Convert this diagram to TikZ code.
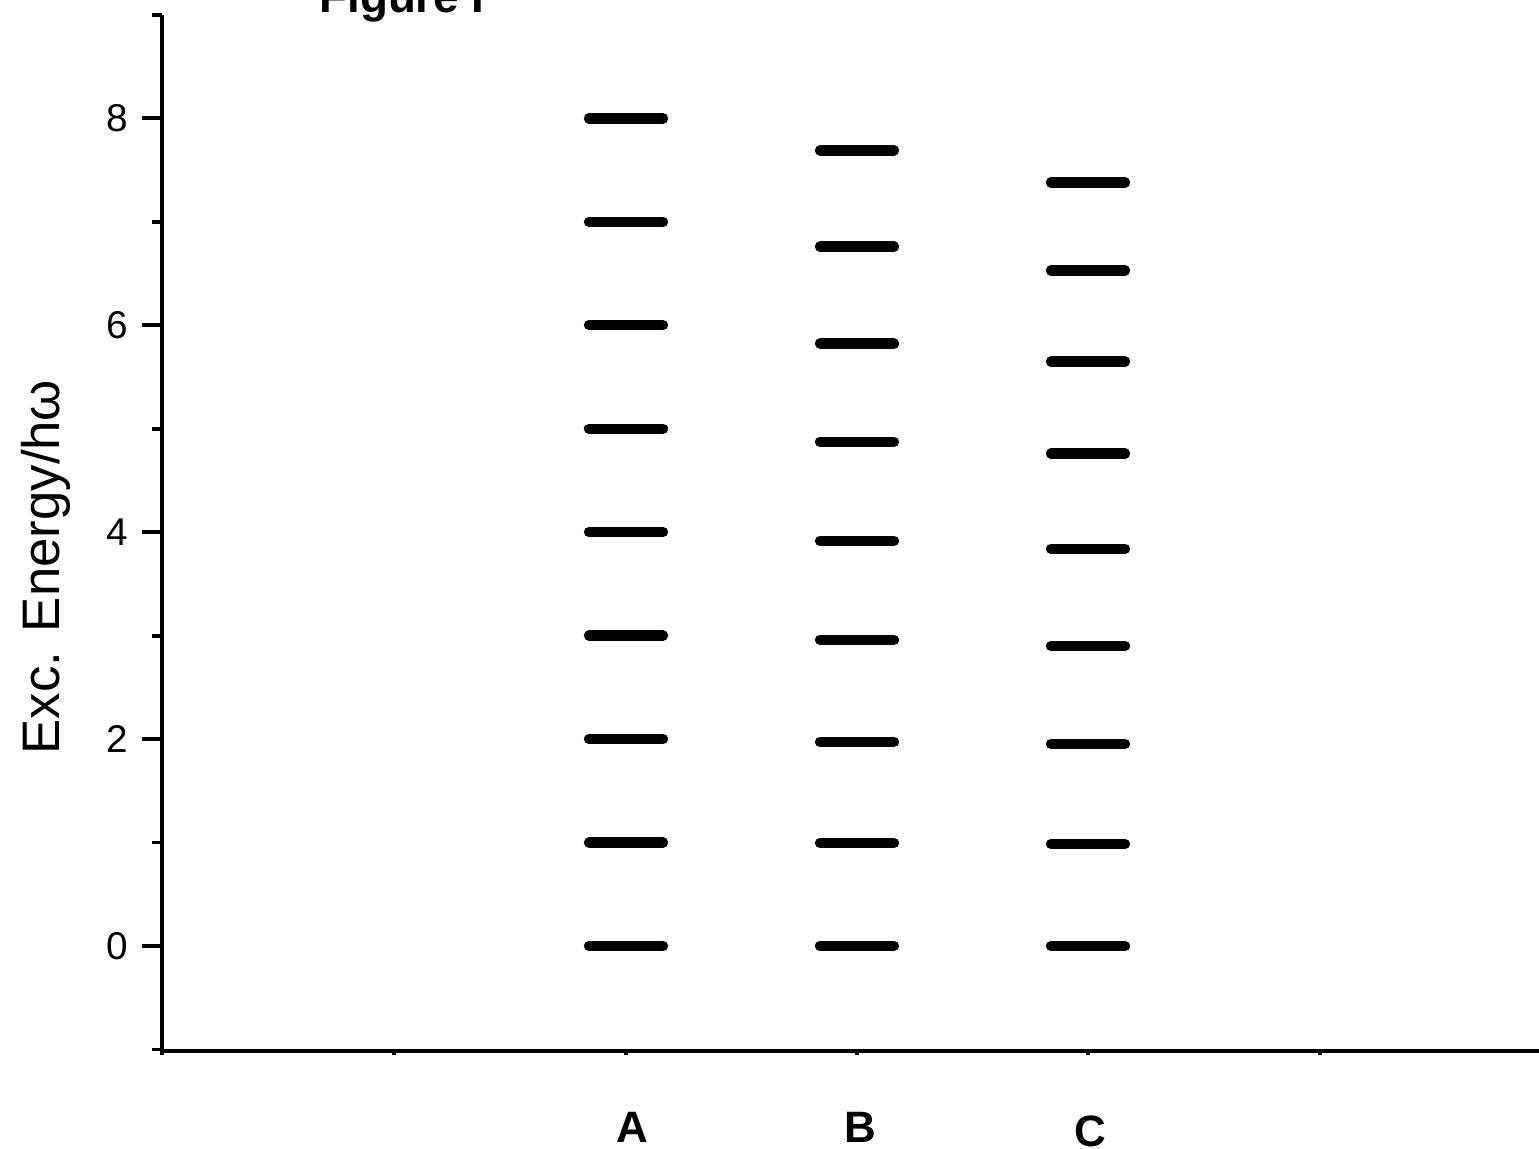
\documentclass[tikz,border=0pt]{standalone}
\usepackage{fontspec}
\setmainfont{Liberation Sans}
\usetikzlibrary{positioning}

\begin{document}
\begin{tikzpicture}[x=0.01cm, y=-0.01cm,
    axis/.style={line width=1.1pt},
    level/.style={line width=2.95pt, line cap=round},
    ticklabel/.style={anchor=east, inner sep=0pt, font=\fontsize{11}{13}\selectfont},
    setlabel/.style={anchor=base, font=\bfseries\fontsize{12.5}{15}\selectfont}]
  \useasboundingbox (0,0) rectangle (1539,1149);
  % Title, cut by the top edge
  \node[anchor=base, font=\bfseries\fontsize{13}{15}\selectfont] (title) at (402,13) {Figure I};
  % Axes
  \draw[axis] (162,15) -- (162,1051) -- (1539,1051);
  \foreach \x in {162,394,626,857,1088,1320}
    \draw[axis] (\x,1051) -- (\x,1055);
  \node[setlabel] (A) at (632,1142) {A};
  \node[setlabel] (B) at (860,1142) {B};
  \node[setlabel] (C) at (1090,1146) {C};
  \node[rotate=90, anchor=base, font=\fontsize{15}{18}\selectfont] (ylabel) at (60,567) {Exc. Energy/hω};
  \begin{scope}[shift={(0,946)}, y=1.034cm]
    % ticks on the energy axis
    \foreach \e in {0,2,...,8} {
      \draw[axis] (142,\e) -- (162,\e);
      \node[ticklabel] (tick\e) at (129,\e) {\e};
    }
    \foreach \e in {-1,1,...,9}
      \draw[axis] (152,\e) -- (162,\e);
    % Draw the levels.
    \foreach \e in {0,...,8}
      \draw[level] (589,\e) -- (663,\e);
    \foreach \e in {0,0.996,1.973,2.96,3.917,4.874,5.822,6.76,7.69}
      \draw[level] (820,\e) -- (894,\e);
    \foreach \e in {0,0.986,1.954,2.90,3.84,4.76,5.65,6.53,7.38}
      \draw[level] (1051,\e) -- (1125,\e);
  \end{scope}
\end{tikzpicture}
\end{document}
